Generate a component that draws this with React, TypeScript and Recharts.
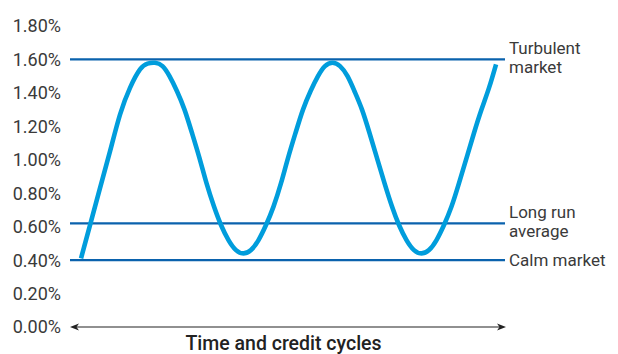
import { LineChart, Line, XAxis, YAxis, ReferenceLine } from "recharts";

// position along the time axis (arbitrary units) and the credit spread (%)
const timeSteps = [
  2.2, 4.1, 6.0, 8.0, 10.0, 12.0, 14.0, 15.5, 17.0,
  18.5, 19.9, 21.4, 22.9, 24.4, 25.9, 27.3, 28.8, 30.2, 31.7, 33.2, 34.7,
  36.2, 37.7, 39.2, 40.7, 42.2, 43.6, 45.1, 46.6, 48.1, 49.6, 51.0, 52.5,
  54.0, 55.5, 56.9, 58.4, 59.9, 61.4, 62.9, 64.4, 65.8, 67.3, 68.8, 70.3,
  71.8, 73.3, 74.8, 76.3, 77.8, 79.3, 80.8, 82.3, 83.8, 85.2,
];
const spreadValues = [
  0.41, 0.62, 0.83, 1.05, 1.27, 1.43, 1.54, 1.575, 1.58,
  1.56, 1.50, 1.41, 1.30, 1.16, 1.01, 0.86, 0.72, 0.61, 0.52, 0.46, 0.44,
  0.46, 0.52, 0.61, 0.72, 0.86, 1.01, 1.16, 1.30, 1.41, 1.50, 1.56, 1.58,
  1.56, 1.50, 1.41, 1.30, 1.16, 1.01, 0.86, 0.72, 0.61, 0.52, 0.46, 0.44,
  0.46, 0.52, 0.61, 0.72, 0.86, 1.01, 1.16, 1.30, 1.43, 1.57,
];

const yTicks = [0, 0.2, 0.4, 0.6, 0.8, 1.0, 1.2, 1.4, 1.6, 1.8];

const levelValues = [1.6, 0.62, 0.4];
const levelLabels = [["Turbulent", "market"], ["Long run", "average"], ["Calm market"]];

const axisTitle = "Time and credit cycles";

const data = timeSteps.map((t, i) => ({ t, spread: spreadValues[i] }));

const TEXT = "#3a3a3a";
const LEVEL = "#0a62ad";
const CURVE = "#009ddc";

function LevelLabel({ viewBox, lines }: any) {
  const x = viewBox.x + viewBox.width + 4;
  const y = viewBox.y;
  if (lines.length === 1) {
    return (
      <text x={x} y={y + 6} fill={TEXT} fontSize={17}>
        {lines[0]}
      </text>
    );
  }
  return (
    <g>
      <text x={x} y={y - 5} fill={TEXT} fontSize={17}>
        {lines[0]}
      </text>
      <text x={x} y={y + 14} fill={TEXT} fontSize={17}>
        {lines[1]}
      </text>
    </g>
  );
}

// double headed arrow along the bottom of the plot
function TimeArrow(props: any) {
  const { x1, x2, y1 } = props;
  const left = x1;
  const right = x2 + 1;
  const y = y1;
  return (
    <g>
      <line x1={left + 3} y1={y} x2={right - 3} y2={y} stroke="#222" strokeWidth={1.2} />
      <path d={`M${left},${y} L${left + 9},${y - 3.5} L${left + 6.5},${y} L${left + 9},${y + 3.5} Z`} fill="#222" />
      <path d={`M${right},${y} L${right - 9},${y - 3.5} L${right - 6.5},${y} L${right - 9},${y + 3.5} Z`} fill="#222" />
    </g>
  );
}

function AxisTitle({ viewBox }: any) {
  const cx = viewBox.x + viewBox.width / 2 - 4;
  return (
    <text x={cx} y={viewBox.y + 23} textAnchor="middle" fill="#222" fontSize={19.5} fontWeight={500}>
      {axisTitle}
    </text>
  );
}

export default function App() {
  return (
    <div style={{ fontFamily: "Roboto, sans-serif" }}>
      <LineChart width={610} height={346} data={data} margin={{ top: 18, right: 113, bottom: 0, left: 0 }}>
        <XAxis
          dataKey="t"
          type="number"
          domain={[0, 87]}
          tick={false}
          axisLine={false}
          tickLine={false}
          height={27}
          label={<AxisTitle />}
        />
        <YAxis
          type="number"
          domain={[0, 1.8]}
          ticks={yTicks}
          width={62}
          axisLine={false}
          tickLine={false}
          tickMargin={3}
          tick={{ fill: TEXT, fontSize: 18 }}
          tickFormatter={(v: number) => `${v.toFixed(2)}%`}
        />
        <ReferenceLine y={0} shape={<TimeArrow />} />
        {levelValues.map((v, i) => (
          <ReferenceLine
            key={v}
            y={v}
            stroke={LEVEL}
            strokeWidth={2.3}
            label={<LevelLabel lines={levelLabels[i]} />}
          />
        ))}
        <Line
          type="natural"
          dataKey="spread"
          stroke={CURVE}
          strokeWidth={4.6}
          dot={false}
          isAnimationActive={false}
        />
      </LineChart>
    </div>
  );
}
